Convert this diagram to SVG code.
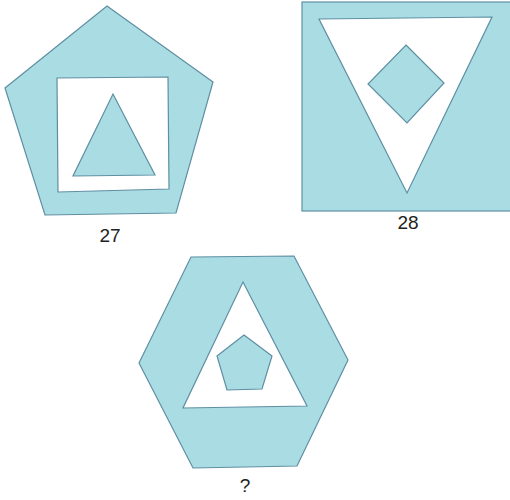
<svg xmlns="http://www.w3.org/2000/svg" width="510" height="500" viewBox="0 0 510 500">
<style>
.b{fill:#a9dce3;stroke:#5f8fa3;stroke-width:1.2;stroke-linejoin:miter}
.w{fill:#ffffff;stroke:#5f8fa3;stroke-width:1.2}
.t{font-family:"Liberation Sans",Arial,sans-serif;font-size:19px;fill:#222;text-anchor:middle}
</style>
<rect width="510" height="500" fill="#ffffff"/>
<g id="fig27">
<polygon class="b" points="107,6 213,82 176,213 45,215 5,88"/>
<polygon class="w" points="57,78 168,77 169,189 58,192"/>
<polygon class="b" points="113,94 155,175 73,176"/>
<text class="t" x="110" y="242">27</text>
</g>
<g id="fig28">
<rect class="b" x="302" y="2" width="210" height="209"/>
<polygon class="w" points="319,19 492,17 407,193"/>
<polygon class="b" points="406,45 444,83 407,123 368,84"/>
<text class="t" x="408" y="229">28</text>
</g>
<g id="figq">
<polygon class="b" points="191,257 294,256 348,360 297,466 193,468 139,363"/>
<polygon class="w" points="243,282 307,406 183,408"/>
<polygon class="b" points="244,335 272,356 262,389 227,390 217,356"/>
<text class="t" x="245" y="492">?</text>
</g>
</svg>
